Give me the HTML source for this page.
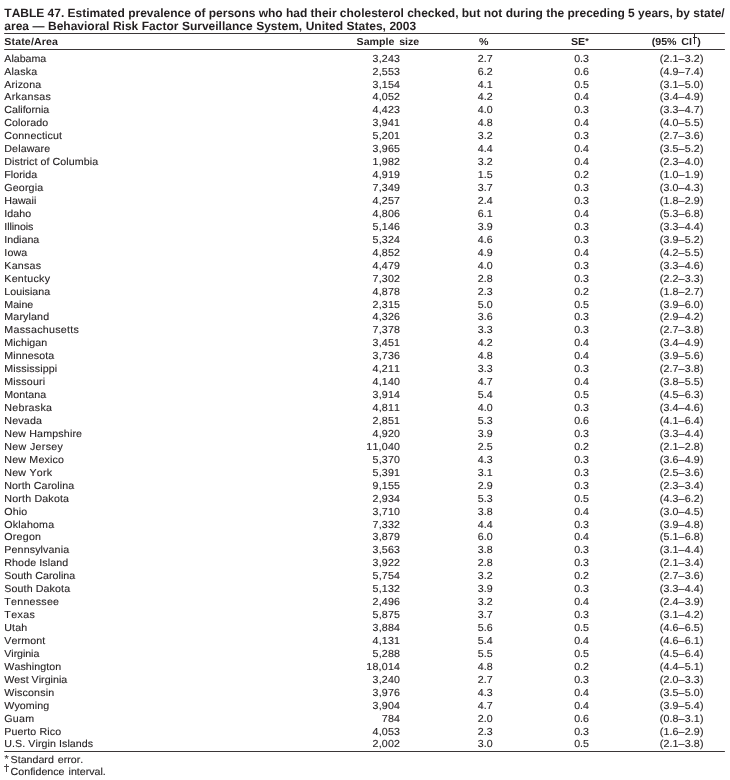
<!DOCTYPE html>
<html><head><meta charset="utf-8"><title>TABLE 47</title>
<style>
html,body{margin:0;padding:0;background:#fff;}
body{width:730px;height:780px;overflow:hidden;}
#w{position:absolute;left:0;top:0;width:730px;height:780px;overflow:hidden;will-change:transform;font-family:"Liberation Sans",sans-serif;color:#231f20;font-size:10.2px;line-height:13px;text-rendering:geometricPrecision;font-kerning:none;}
.t{position:absolute;left:4.3px;top:7px;font-size:12px;font-weight:bold;line-height:13px;white-space:nowrap;}
#b{position:absolute;left:0;top:0;width:697.897px;height:780px;transform:scaleX(1.046);transform-origin:0 0;}
.rule{position:absolute;left:3.824px;width:689.293px;height:1px;background:#3a3637;}
.r{position:absolute;left:0;width:697.897px;height:13px;white-space:nowrap;}
.r span{position:absolute;top:0;}
.s{left:4.111px;word-spacing:0px;}
.n{right:315.296px;letter-spacing:0.2px;}
.p{right:226.864px;}
.e{right:134.799px;}
.c{right:25.239px;letter-spacing:0.13px;}
.r,.fn{-webkit-text-stroke:0.12px #231f20;}
.h span{font-weight:bold;font-size:10.2px;-webkit-text-stroke:0;}
.dg{display:inline-block;width:5.163px;height:0;}
.a{font-weight:bold;font-size:8.6px;position:relative;top:-1.4px;}
.k{position:absolute;background:#2a2627;}
.fn{position:absolute;left:0;white-space:nowrap;height:13px;}
.fn span{position:absolute;top:0;}
</style></head><body><div id="w">
<div class="t"><span style="word-spacing:-0.06px">TABLE 47. Estimated prevalence of persons who had their cholesterol checked, but not during the preceding 5 years, by state/</span><br><span style="word-spacing:0.18px">area — Behavioral Risk Factor Surveillance System, United States, 2003</span></div>
<div id="b">
<div class="rule" style="top:33px"></div>
<div class="r h" style="top:36px"><span class="s" style="letter-spacing:0.1px">State/Area</span><span style="left:340.918px;word-spacing:1.6px">Sample size</span><span style="left:458.031px">%</span><span style="left:545.889px">SE<b class="a">*</b></span><span style="left:623.04px;word-spacing:1.6px">(95% CI<i class="dg"></i>)</span></div>
<div class="rule" style="top:49px"></div>
<div class="r" style="top:52.66px"><span class="s" style="letter-spacing:-0.015px">Alabama</span><span class="n">3,243</span><span class="p">2.7</span><span class="e">0.3</span><span class="c">(2.1–3.2)</span></div>
<div class="r" style="top:65.60px"><span class="s" style="letter-spacing:0.156px">Alaska</span><span class="n">2,553</span><span class="p">6.2</span><span class="e">0.6</span><span class="c">(4.9–7.4)</span></div>
<div class="r" style="top:78.54px"><span class="s" style="letter-spacing:0.113px">Arizona</span><span class="n">3,154</span><span class="p">4.1</span><span class="e">0.5</span><span class="c">(3.1–5.0)</span></div>
<div class="r" style="top:91.48px"><span class="s" style="letter-spacing:0.302px">Arkansas</span><span class="n">4,052</span><span class="p">4.2</span><span class="e">0.4</span><span class="c">(3.4–4.9)</span></div>
<div class="r" style="top:104.42px"><span class="s" style="letter-spacing:-0.007px">California</span><span class="n">4,423</span><span class="p">4.0</span><span class="e">0.3</span><span class="c">(3.3–4.7)</span></div>
<div class="r" style="top:117.36px"><span class="s" style="letter-spacing:0.084px">Colorado</span><span class="n">3,941</span><span class="p">4.8</span><span class="e">0.4</span><span class="c">(4.0–5.5)</span></div>
<div class="r" style="top:130.30px"><span class="s" style="letter-spacing:0.144px">Connecticut</span><span class="n">5,201</span><span class="p">3.2</span><span class="e">0.3</span><span class="c">(2.7–3.6)</span></div>
<div class="r" style="top:143.24px"><span class="s" style="letter-spacing:0.111px">Delaware</span><span class="n">3,965</span><span class="p">4.4</span><span class="e">0.4</span><span class="c">(3.5–5.2)</span></div>
<div class="r" style="top:156.18px"><span class="s" style="letter-spacing:0.072px">District of Columbia</span><span class="n">1,982</span><span class="p">3.2</span><span class="e">0.4</span><span class="c">(2.3–4.0)</span></div>
<div class="r" style="top:169.12px"><span class="s" style="letter-spacing:0.053px">Florida</span><span class="n">4,919</span><span class="p">1.5</span><span class="e">0.2</span><span class="c">(1.0–1.9)</span></div>
<div class="r" style="top:182.06px"><span class="s" style="letter-spacing:0.142px">Georgia</span><span class="n">7,349</span><span class="p">3.7</span><span class="e">0.3</span><span class="c">(3.0–4.3)</span></div>
<div class="r" style="top:195.00px"><span class="s" style="letter-spacing:-0.003px">Hawaii</span><span class="n">4,257</span><span class="p">2.4</span><span class="e">0.3</span><span class="c">(1.8–2.9)</span></div>
<div class="r" style="top:207.94px"><span class="s" style="letter-spacing:0.058px">Idaho</span><span class="n">4,806</span><span class="p">6.1</span><span class="e">0.4</span><span class="c">(5.3–6.8)</span></div>
<div class="r" style="top:220.88px"><span class="s" style="letter-spacing:-0.077px">Illinois</span><span class="n">5,146</span><span class="p">3.9</span><span class="e">0.3</span><span class="c">(3.3–4.4)</span></div>
<div class="r" style="top:233.82px"><span class="s" style="letter-spacing:-0.000px">Indiana</span><span class="n">5,324</span><span class="p">4.6</span><span class="e">0.3</span><span class="c">(3.9–5.2)</span></div>
<div class="r" style="top:246.76px"><span class="s" style="letter-spacing:0.111px">Iowa</span><span class="n">4,852</span><span class="p">4.9</span><span class="e">0.4</span><span class="c">(4.2–5.5)</span></div>
<div class="r" style="top:259.70px"><span class="s" style="letter-spacing:0.225px">Kansas</span><span class="n">4,479</span><span class="p">4.0</span><span class="e">0.3</span><span class="c">(3.3–4.6)</span></div>
<div class="r" style="top:272.64px"><span class="s" style="letter-spacing:0.253px">Kentucky</span><span class="n">7,302</span><span class="p">2.8</span><span class="e">0.3</span><span class="c">(2.2–3.3)</span></div>
<div class="r" style="top:285.58px"><span class="s" style="letter-spacing:0.034px">Louisiana</span><span class="n">4,878</span><span class="p">2.3</span><span class="e">0.2</span><span class="c">(1.8–2.7)</span></div>
<div class="r" style="top:298.52px"><span class="s" style="letter-spacing:-0.011px">Maine</span><span class="n">2,315</span><span class="p">5.0</span><span class="e">0.5</span><span class="c">(3.9–6.0)</span></div>
<div class="r" style="top:311.46px"><span class="s" style="letter-spacing:0.134px">Maryland</span><span class="n">4,326</span><span class="p">3.6</span><span class="e">0.3</span><span class="c">(2.9–4.2)</span></div>
<div class="r" style="top:324.40px"><span class="s" style="letter-spacing:0.283px">Massachusetts</span><span class="n">7,378</span><span class="p">3.3</span><span class="e">0.3</span><span class="c">(2.7–3.8)</span></div>
<div class="r" style="top:337.34px"><span class="s" style="letter-spacing:0.036px">Michigan</span><span class="n">3,451</span><span class="p">4.2</span><span class="e">0.4</span><span class="c">(3.4–4.9)</span></div>
<div class="r" style="top:350.28px"><span class="s" style="letter-spacing:0.082px">Minnesota</span><span class="n">3,736</span><span class="p">4.8</span><span class="e">0.4</span><span class="c">(3.9–5.6)</span></div>
<div class="r" style="top:363.22px"><span class="s" style="letter-spacing:0.124px">Mississippi</span><span class="n">4,211</span><span class="p">3.3</span><span class="e">0.3</span><span class="c">(2.7–3.8)</span></div>
<div class="r" style="top:376.16px"><span class="s" style="letter-spacing:0.153px">Missouri</span><span class="n">4,140</span><span class="p">4.7</span><span class="e">0.4</span><span class="c">(3.8–5.5)</span></div>
<div class="r" style="top:389.10px"><span class="s" style="letter-spacing:0.066px">Montana</span><span class="n">3,914</span><span class="p">5.4</span><span class="e">0.5</span><span class="c">(4.5–6.3)</span></div>
<div class="r" style="top:402.04px"><span class="s" style="letter-spacing:0.279px">Nebraska</span><span class="n">4,811</span><span class="p">4.0</span><span class="e">0.3</span><span class="c">(3.4–4.6)</span></div>
<div class="r" style="top:414.98px"><span class="s" style="letter-spacing:0.195px">Nevada</span><span class="n">2,851</span><span class="p">5.3</span><span class="e">0.6</span><span class="c">(4.1–6.4)</span></div>
<div class="r" style="top:427.92px"><span class="s" style="letter-spacing:0.155px">New Hampshire</span><span class="n">4,920</span><span class="p">3.9</span><span class="e">0.3</span><span class="c">(3.3–4.4)</span></div>
<div class="r" style="top:440.86px"><span class="s" style="letter-spacing:0.312px">New Jersey</span><span class="n">11,040</span><span class="p">2.5</span><span class="e">0.2</span><span class="c">(2.1–2.8)</span></div>
<div class="r" style="top:453.80px"><span class="s" style="letter-spacing:0.181px">New Mexico</span><span class="n">5,370</span><span class="p">4.3</span><span class="e">0.3</span><span class="c">(3.6–4.9)</span></div>
<div class="r" style="top:466.74px"><span class="s" style="letter-spacing:0.210px">New York</span><span class="n">5,391</span><span class="p">3.1</span><span class="e">0.3</span><span class="c">(2.5–3.6)</span></div>
<div class="r" style="top:479.68px"><span class="s" style="letter-spacing:0.083px">North Carolina</span><span class="n">9,155</span><span class="p">2.9</span><span class="e">0.3</span><span class="c">(2.3–3.4)</span></div>
<div class="r" style="top:492.62px"><span class="s" style="letter-spacing:0.171px">North Dakota</span><span class="n">2,934</span><span class="p">5.3</span><span class="e">0.5</span><span class="c">(4.3–6.2)</span></div>
<div class="r" style="top:505.56px"><span class="s" style="letter-spacing:0.111px">Ohio</span><span class="n">3,710</span><span class="p">3.8</span><span class="e">0.4</span><span class="c">(3.0–4.5)</span></div>
<div class="r" style="top:518.50px"><span class="s" style="letter-spacing:0.164px">Oklahoma</span><span class="n">7,332</span><span class="p">4.4</span><span class="e">0.3</span><span class="c">(3.9–4.8)</span></div>
<div class="r" style="top:531.44px"><span class="s" style="letter-spacing:0.225px">Oregon</span><span class="n">3,879</span><span class="p">6.0</span><span class="e">0.4</span><span class="c">(5.1–6.8)</span></div>
<div class="r" style="top:544.38px"><span class="s" style="letter-spacing:0.122px">Pennsylvania</span><span class="n">3,563</span><span class="p">3.8</span><span class="e">0.3</span><span class="c">(3.1–4.4)</span></div>
<div class="r" style="top:557.32px"><span class="s" style="letter-spacing:0.090px">Rhode Island</span><span class="n">3,922</span><span class="p">2.8</span><span class="e">0.3</span><span class="c">(2.1–3.4)</span></div>
<div class="r" style="top:570.26px"><span class="s" style="letter-spacing:0.029px">South Carolina</span><span class="n">5,754</span><span class="p">3.2</span><span class="e">0.2</span><span class="c">(2.7–3.6)</span></div>
<div class="r" style="top:583.20px"><span class="s" style="letter-spacing:0.107px">South Dakota</span><span class="n">5,132</span><span class="p">3.9</span><span class="e">0.3</span><span class="c">(3.3–4.4)</span></div>
<div class="r" style="top:596.14px"><span class="s" style="letter-spacing:0.235px">Tennessee</span><span class="n">2,496</span><span class="p">3.2</span><span class="e">0.4</span><span class="c">(2.4–3.9)</span></div>
<div class="r" style="top:609.08px"><span class="s" style="letter-spacing:0.372px">Texas</span><span class="n">5,875</span><span class="p">3.7</span><span class="e">0.3</span><span class="c">(3.1–4.2)</span></div>
<div class="r" style="top:622.02px"><span class="s" style="letter-spacing:0.111px">Utah</span><span class="n">3,884</span><span class="p">5.6</span><span class="e">0.5</span><span class="c">(4.6–6.5)</span></div>
<div class="r" style="top:634.96px"><span class="s" style="letter-spacing:0.093px">Vermont</span><span class="n">4,131</span><span class="p">5.4</span><span class="e">0.4</span><span class="c">(4.6–6.1)</span></div>
<div class="r" style="top:647.90px"><span class="s" style="letter-spacing:-0.069px">Virginia</span><span class="n">5,288</span><span class="p">5.5</span><span class="e">0.5</span><span class="c">(4.5–6.4)</span></div>
<div class="r" style="top:660.84px"><span class="s" style="letter-spacing:0.063px">Washington</span><span class="n">18,014</span><span class="p">4.8</span><span class="e">0.2</span><span class="c">(4.4–5.1)</span></div>
<div class="r" style="top:673.78px"><span class="s" style="letter-spacing:0.011px">West Virginia</span><span class="n">3,240</span><span class="p">2.7</span><span class="e">0.3</span><span class="c">(2.0–3.3)</span></div>
<div class="r" style="top:686.72px"><span class="s" style="letter-spacing:0.147px">Wisconsin</span><span class="n">3,976</span><span class="p">4.3</span><span class="e">0.4</span><span class="c">(3.5–5.0)</span></div>
<div class="r" style="top:699.66px"><span class="s" style="letter-spacing:0.073px">Wyoming</span><span class="n">3,904</span><span class="p">4.7</span><span class="e">0.4</span><span class="c">(3.9–5.4)</span></div>
<div class="r" style="top:712.60px"><span class="s" style="letter-spacing:0.226px">Guam</span><span class="n">784</span><span class="p">2.0</span><span class="e">0.6</span><span class="c">(0.8–3.1)</span></div>
<div class="r" style="top:725.54px"><span class="s" style="letter-spacing:0.109px">Puerto Rico</span><span class="n">4,053</span><span class="p">2.3</span><span class="e">0.3</span><span class="c">(1.6–2.9)</span></div>
<div class="r" style="top:738.48px"><span class="s" style="letter-spacing:0.062px">U.S. Virgin Islands</span><span class="n">2,002</span><span class="p">3.0</span><span class="e">0.5</span><span class="c">(2.1–3.8)</span></div>
<div class="rule" style="top:751px"></div>
<div class="fn" style="top:754px"><span style="left:4.207px;top:-1px">*</span><span style="left:10.134px;word-spacing:1px">Standard error.</span></div>
<div class="fn" style="top:766px"><span style="left:10.134px;word-spacing:1px">Confidence interval.</span></div>
</div>
<div class="k" style="left:694.3px;top:34px;width:1px;height:9.6px"></div><div class="k" style="left:692.7px;top:37.1px;width:4.3px;height:1px"></div>
<div class="k" style="left:6.1px;top:764.3px;width:1px;height:7.7px;background:#4d494a"></div><div class="k" style="left:4.4px;top:766px;width:4.4px;height:1px;background:#4d494a"></div>
</div></body></html>
